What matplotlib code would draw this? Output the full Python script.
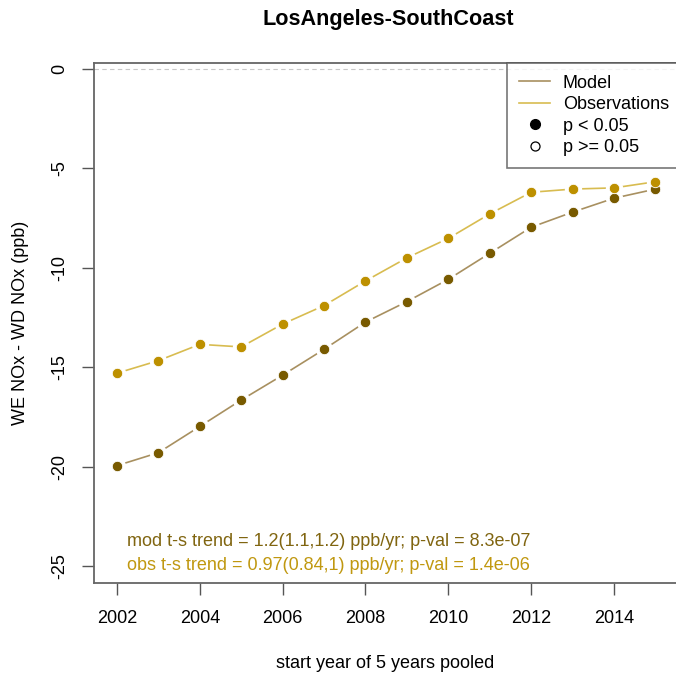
import matplotlib
matplotlib.use("Agg")
import matplotlib.pyplot as plt
from matplotlib.lines import Line2D

plt.rcParams['font.family'] = ['Liberation Sans', 'DejaVu Sans']

years = [2002, 2003, 2004, 2005, 2006, 2007, 2008, 2009, 2010, 2011, 2012, 2013, 2014, 2015]
model = [-19.95, -19.3, -17.98, -16.65, -15.4, -14.1, -12.73, -11.7, -10.58, -9.27, -7.96, -7.2, -6.5, -6.04]
obs = [-15.3, -14.67, -13.85, -13.98, -12.83, -11.9, -10.66, -9.5, -8.52, -7.29, -6.2, -6.04, -5.98, -5.67]

mod_text = "mod t-s trend = 1.2(1.1,1.2) ppb/yr; p-val = 8.3e-07"
obs_text = "obs t-s trend = 0.97(0.84,1) ppb/yr; p-val = 1.4e-06"

mod_pt = "#785a00"
obs_pt = "#bd9000"
mod_ln = "#a89060"
obs_ln = "#d8bc50"

W, H = 676, 673
fig = plt.figure(figsize=(W / 100, H / 100), dpi=100)
ax = fig.add_axes([94 / W, 1 - 583 / H, (676 - 94) / W, (583 - 63) / H])

ax.axhline(0, color="#c8c8c8", lw=0.8, ls=(0, (4, 3)), zorder=1)

# type="b" look: line, white gap around each point, then the point
for y, lc, pc in [(model, mod_ln, mod_pt), (obs, obs_ln, obs_pt)]:
    ax.plot(years, y, color=lc, lw=1.2, zorder=2)
    ax.plot(years, y, ls="none", marker="o", ms=12.5, mfc="white", mec="none", zorder=3)
    ax.plot(years, y, ls="none", marker="o", ms=7.5, mfc=pc, mec="white", mew=0.6, zorder=4)

ax.set_xlim(2001.445, 2015.497)
ax.set_ylim(-25.855, 0.302)
ax.set_xticks(range(2002, 2015, 2))
ax.set_yticks([0, -5, -10, -15, -20, -25])
ax.set_yticklabels(["0", "-5", "-10", "-15", "-20", "-25"], rotation=90, va="center")
ax.tick_params(axis="both", length=8.5, width=1, color="#555555", labelsize=13, pad=10)
ax.tick_params(axis="x", pad=11)
for s in ["left", "bottom", "top"]:
    ax.spines[s].set_color("#666666")
    ax.spines[s].set_linewidth(1.3)
ax.spines["right"].set_visible(False)

ax.set_xlabel("start year of 5 years pooled", fontsize=13, labelpad=20)
ax.set_ylabel("WE NOx - WD NOx (ppb)", fontsize=13, labelpad=16)
fig.text(388 / W, 1 - 20 / H, "LosAngeles-SouthCoast", ha="center", va="center",
         fontsize=15.6, fontweight="bold")

ax.text((127 - 94) / 582, 1 - (542 - 63) / 520, mod_text, transform=ax.transAxes,
        color="#806510", fontsize=13, va="center")
ax.text((127 - 94) / 582, 1 - (565 - 63) / 520, obs_text, transform=ax.transAxes,
        color="#c09810", fontsize=13, va="center")

handles = [
    Line2D([], [], color=mod_ln, lw=1.2),
    Line2D([], [], color=obs_ln, lw=1.2),
    Line2D([], [], ls="none", marker="o", ms=7, mfc="black", mec="black"),
    Line2D([], [], ls="none", marker="o", ms=6.5, mfc="white", mec="black", mew=0.9),
]
labels = ["Model", "Observations", "p < 0.05", "p >= 0.05"]
leg = ax.legend(handles, labels, loc="upper left", bbox_to_anchor=((507 - 94) / 582, 1.0),
                fontsize=13, frameon=True, fancybox=False,
                handlelength=1.75, handletextpad=0.7, labelspacing=0.25,
                borderpad=0.65, borderaxespad=0)
leg.get_frame().set_edgecolor("#555555")
leg.get_frame().set_linewidth(1.2)

fig.savefig("out.png", dpi=100)
